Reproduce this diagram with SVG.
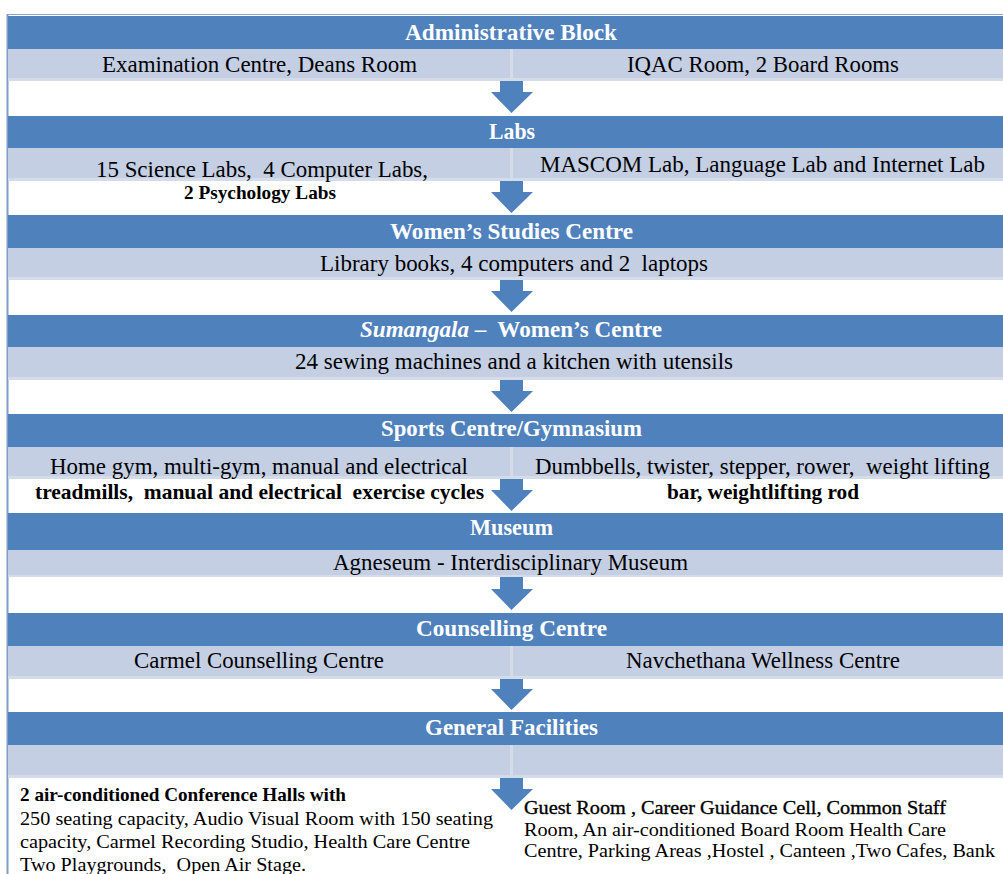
<svg xmlns="http://www.w3.org/2000/svg" width="1003" height="874" viewBox="0 0 1003 874">
<style>
text{font-family:"Liberation Serif","Times New Roman",serif}
.hd{fill:#4F81BD}
.bd{fill:#C4CFE3}
.bs{fill:#D4DCEA}
.sep{fill:#D4DCEA}
.ht{font-size:23px;font-weight:bold;fill:#FFFFFF;text-anchor:middle}
.bt{font-size:23px;font-weight:normal;fill:#000000}
.bb{font-size:21px;font-weight:bold;fill:#000000}
.st{font-size:19px;font-weight:normal;fill:#000000}
.sb{font-size:19px;font-weight:bold;fill:#000000}
.sm{font-size:19px;font-weight:normal;fill:#000000;stroke:#000000;stroke-width:0.35}
.arr{fill:#4F81BD}
</style>
<rect x="0" y="0" width="1003" height="874" fill="#FFFFFF"/>
<g id="frame">
<line x1="7.5" y1="14.5" x2="1003" y2="14.5" stroke="#8CA4C8" stroke-width="1"/>
<line x1="7.5" y1="14" x2="7.5" y2="874" stroke="#7F9CC6" stroke-width="2"/>
</g>
<g id="connectors">
<path class="arr" d="M500,81 L523,81 L523,92 L533,92 L511.5,113 L491,92 L500,92 Z"/>
<path class="arr" d="M500,181 L523,181 L523,192 L533,192 L511.5,213 L491,192 L500,192 Z"/>
<path class="arr" d="M500,280 L523,280 L523,291 L533,291 L511.5,312 L491,291 L500,291 Z"/>
<path class="arr" d="M500,380 L523,380 L523,391 L533,391 L511.5,412 L491,391 L500,391 Z"/>
<path class="arr" d="M500,479 L523,479 L523,490 L533,490 L511.5,511 L491,490 L500,490 Z"/>
<path class="arr" d="M500,577 L523,577 L523,589 L533,589 L511.5,610 L491,589 L500,589 Z"/>
<path class="arr" d="M500,679 L523,679 L523,689 L533,689 L511.5,710 L491,689 L500,689 Z"/>
<path class="arr" d="M500,778 L523,778 L523,789 L533,789 L511.5,810 L491,789 L500,789 Z"/>
</g>
<g id="administrative-block">
<rect class="hd" x="8" y="16" width="995" height="33"/>
<rect class="bd" x="8" y="49" width="995" height="29"/>
<rect class="bs" x="8" y="78" width="995" height="3"/>
<rect class="sep" x="510" y="49" width="3" height="29"/>
<text class="ht" x="511" y="40" textLength="212" lengthAdjust="spacingAndGlyphs">Administrative Block</text>
<text class="bt" x="102" y="72" textLength="315" lengthAdjust="spacingAndGlyphs">Examination Centre, Deans Room</text>
<text class="bt" x="627" y="72" textLength="272" lengthAdjust="spacingAndGlyphs">IQAC Room, 2 Board Rooms</text>
</g>
<g id="labs">
<rect class="hd" x="8" y="116" width="995" height="32"/>
<rect class="bd" x="8" y="148" width="995" height="30"/>
<rect class="bs" x="8" y="178" width="995" height="3"/>
<rect class="sep" x="510" y="148" width="3" height="30"/>
<text class="ht" x="512" y="139" textLength="46" lengthAdjust="spacingAndGlyphs">Labs</text>
<text class="bt" x="96" y="177" textLength="332" lengthAdjust="spacingAndGlyphs" xml:space="preserve">15 Science Labs,  4 Computer Labs,</text>
<text class="sb" x="184" y="199" textLength="152" lengthAdjust="spacingAndGlyphs">2 Psychology Labs</text>
<text class="bt" x="540" y="172" textLength="445" lengthAdjust="spacingAndGlyphs">MASCOM Lab, Language Lab and Internet Lab</text>
</g>
<g id="womens-studies-centre">
<rect class="hd" x="8" y="215" width="995" height="33"/>
<rect class="bd" x="8" y="248" width="995" height="29"/>
<rect class="bs" x="8" y="277" width="995" height="3"/>
<text class="ht" x="511.5" y="239" textLength="243" lengthAdjust="spacingAndGlyphs">Women’s Studies Centre</text>
<text class="bt" x="320" y="271" textLength="388" lengthAdjust="spacingAndGlyphs" xml:space="preserve">Library books, 4 computers and 2  laptops</text>
</g>
<g id="sumangala-womens-centre">
<rect class="hd" x="8" y="315" width="995" height="32"/>
<rect class="bd" x="8" y="347" width="995" height="30"/>
<rect class="bs" x="8" y="377" width="995" height="3"/>
<text class="ht" x="360" y="337" style="text-anchor:start" textLength="302" lengthAdjust="spacingAndGlyphs" xml:space="preserve"><tspan font-style="italic">Sumangala</tspan> –  Women’s Centre</text>
<text class="bt" x="295" y="369" textLength="438" lengthAdjust="spacingAndGlyphs">24 sewing machines and a kitchen with utensils</text>
</g>
<g id="sports-centre-gymnasium">
<rect class="hd" x="8" y="414" width="995" height="33"/>
<rect class="bd" x="8" y="447" width="995" height="29"/>
<rect class="bs" x="8" y="476" width="995" height="3"/>
<rect class="sep" x="510" y="447" width="3" height="29"/>
<text class="ht" x="511.5" y="436" textLength="261" lengthAdjust="spacingAndGlyphs">Sports Centre/Gymnasium</text>
<text class="bt" x="50" y="474" textLength="418" lengthAdjust="spacingAndGlyphs">Home gym, multi-gym, manual and electrical</text>
<text class="bb" x="35" y="499" textLength="449" lengthAdjust="spacingAndGlyphs" xml:space="preserve">treadmills,  manual and electrical  exercise cycles</text>
<text class="bt" x="535" y="474" textLength="455" lengthAdjust="spacingAndGlyphs" xml:space="preserve">Dumbbells, twister, stepper, rower,  weight lifting</text>
<text class="bb" x="667" y="499" textLength="192" lengthAdjust="spacingAndGlyphs">bar, weightlifting rod</text>
</g>
<g id="museum">
<rect class="hd" x="8" y="513" width="995" height="37"/>
<rect class="bd" x="8" y="550" width="995" height="25"/>
<rect class="bs" x="8" y="575" width="995" height="2"/>
<text class="ht" x="511.5" y="535" textLength="83" lengthAdjust="spacingAndGlyphs">Museum</text>
<text class="bt" x="333" y="570" textLength="355" lengthAdjust="spacingAndGlyphs">Agneseum - Interdisciplinary Museum</text>
</g>
<g id="counselling-centre">
<rect class="hd" x="8" y="613" width="995" height="33"/>
<rect class="bd" x="8" y="646" width="995" height="30"/>
<rect class="bs" x="8" y="676" width="995" height="3"/>
<rect class="sep" x="510" y="646" width="3" height="30"/>
<text class="ht" x="511.5" y="636" textLength="191" lengthAdjust="spacingAndGlyphs">Counselling Centre</text>
<text class="bt" x="134" y="668" textLength="250" lengthAdjust="spacingAndGlyphs">Carmel Counselling Centre</text>
<text class="bt" x="626" y="668" textLength="274" lengthAdjust="spacingAndGlyphs">Navchethana Wellness Centre</text>
</g>
<g id="general-facilities">
<rect class="hd" x="8" y="712" width="995" height="33"/>
<rect class="bd" x="8" y="745" width="995" height="30"/>
<rect class="bs" x="8" y="775" width="995" height="3"/>
<rect class="sep" x="510" y="745" width="3" height="30"/>
<text class="ht" x="511.5" y="735" textLength="173" lengthAdjust="spacingAndGlyphs">General Facilities</text>
<text class="sb" x="20" y="801" textLength="326" lengthAdjust="spacingAndGlyphs">2 air-conditioned Conference Halls with</text>
<text class="st" x="20" y="825" textLength="473" lengthAdjust="spacingAndGlyphs">250 seating capacity, Audio Visual Room with 150 seating</text>
<text class="st" x="20" y="848" textLength="450" lengthAdjust="spacingAndGlyphs">capacity, Carmel Recording Studio, Health Care Centre</text>
<text class="st" x="20" y="871" textLength="286" lengthAdjust="spacingAndGlyphs" xml:space="preserve">Two Playgrounds,  Open Air Stage.</text>
<text class="sm" x="524" y="814" textLength="422" lengthAdjust="spacingAndGlyphs">Guest Room , Career Guidance Cell, Common Staff</text>
<text class="st" x="524" y="836" textLength="422" lengthAdjust="spacingAndGlyphs">Room, An air-conditioned Board Room Health Care</text>
<text class="st" x="524" y="857" textLength="471" lengthAdjust="spacingAndGlyphs">Centre, Parking Areas ,Hostel , Canteen ,Two Cafes, Bank</text>
</g>
</svg>
